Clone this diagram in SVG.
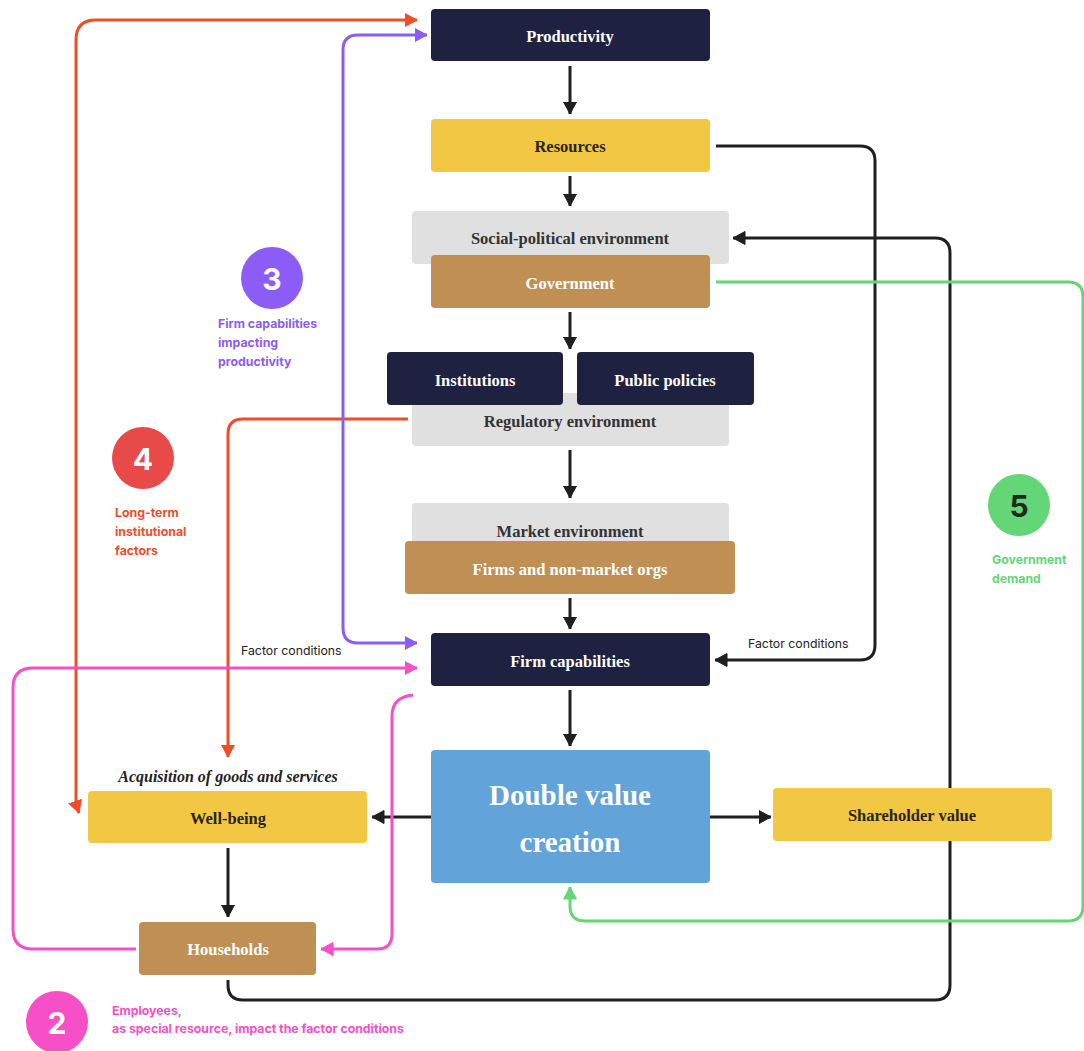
<svg xmlns="http://www.w3.org/2000/svg" width="1084" height="1051" viewBox="0 0 1084 1051">
<style>
.node-t{font-family:"Liberation Serif",serif;font-weight:bold;font-size:16.5px;text-anchor:middle;dominant-baseline:central}
.w{fill:#ffffff}.d{fill:#2a2418}.g{fill:#333333}
.lab{font-family:Inter,"Liberation Sans",sans-serif;font-weight:bold;font-size:12.3px}
.fc{font-family:Inter,"Liberation Sans",sans-serif;font-size:12.3px;fill:#222}
.num{font-family:Inter,"Liberation Sans",sans-serif;font-weight:bold;font-size:30px;text-anchor:middle;dominant-baseline:central}
.c{fill:none;stroke-width:3;stroke-linejoin:round}
</style>
<defs>
<marker id="ak" markerUnits="userSpaceOnUse" markerWidth="15" markerHeight="15" refX="12.5" refY="7" orient="auto-start-reverse"><path d="M0.5,0.5 L12.5,7 L0.5,13.5 z" fill="#1f1f1f" stroke="#1f1f1f" stroke-width="1" stroke-linejoin="round"/></marker>
<marker id="ao" markerUnits="userSpaceOnUse" markerWidth="15" markerHeight="15" refX="12.5" refY="7" orient="auto-start-reverse"><path d="M0.5,0.5 L12.5,7 L0.5,13.5 z" fill="#f24c26" stroke="#f24c26" stroke-width="1" stroke-linejoin="round"/></marker>
<marker id="ap" markerUnits="userSpaceOnUse" markerWidth="15" markerHeight="15" refX="12.5" refY="7" orient="auto-start-reverse"><path d="M0.5,0.5 L12.5,7 L0.5,13.5 z" fill="#8b5cf6" stroke="#8b5cf6" stroke-width="1" stroke-linejoin="round"/></marker>
<marker id="am" markerUnits="userSpaceOnUse" markerWidth="15" markerHeight="15" refX="12.5" refY="7" orient="auto-start-reverse"><path d="M0.5,0.5 L12.5,7 L0.5,13.5 z" fill="#f74fc8" stroke="#f74fc8" stroke-width="1" stroke-linejoin="round"/></marker>
<marker id="ag" markerUnits="userSpaceOnUse" markerWidth="15" markerHeight="15" refX="12.5" refY="7" orient="auto-start-reverse"><path d="M0.5,0.5 L12.5,7 L0.5,13.5 z" fill="#65d677" stroke="#65d677" stroke-width="1" stroke-linejoin="round"/></marker>
</defs>
<rect width="1084" height="1051" fill="#ffffff"/>

<g id="connectors">
<path class="c" stroke="#1f1f1f" d="M570 66 V114" marker-end="url(#ak)"/>
<path class="c" stroke="#1f1f1f" d="M570 176 V206" marker-end="url(#ak)"/>
<path class="c" stroke="#1f1f1f" d="M570 312 V349" marker-end="url(#ak)"/>
<path class="c" stroke="#1f1f1f" d="M570 450 V498" marker-end="url(#ak)"/>
<path class="c" stroke="#1f1f1f" d="M570 598 V629" marker-end="url(#ak)"/>
<path class="c" stroke="#1f1f1f" d="M570 690 V746" marker-end="url(#ak)"/>
<path class="c" stroke="#1f1f1f" d="M431 817 H372" marker-end="url(#ak)"/>
<path class="c" stroke="#1f1f1f" d="M710 817 H771" marker-end="url(#ak)"/>
<path class="c" stroke="#1f1f1f" d="M228 848 V917" marker-end="url(#ak)"/>
<path class="c" stroke="#1f1f1f" d="M716 146 H860 Q875 146 875 161 V645 Q875 660 860 660 H715" marker-end="url(#ak)"/>
<path class="c" stroke="#1f1f1f" d="M228 980 V985 Q228 1000 243 1000 H935 Q950 1000 950 985 V253 Q950 238 935 238 H733" marker-end="url(#ak)"/>
<path class="c" stroke="#65d677" d="M716 282 H1068 Q1083 282 1083 297 V906 Q1083 921 1068 921 H585 Q570 921 570 906 V887" marker-end="url(#ag)"/>
<path class="c" stroke="#f24c26" d="M79 813 L76 804 V40 Q76 20 96 20 H417" marker-start="url(#ao)" marker-end="url(#ao)"/>
<path class="c" stroke="#f24c26" d="M408 419 H243 Q228 419 228 434 V757" marker-end="url(#ao)"/>
<path class="c" stroke="#8b5cf6" d="M417 643 H358 Q343 643 343 628 V50 Q343 35 358 35 H427" marker-start="url(#ap)" marker-end="url(#ap)"/>
<path class="c" stroke="#f74fc8" d="M136 949 H33 Q13 949 13 929 V688 Q13 668 33 668 H417" marker-end="url(#am)"/>
<path class="c" stroke="#f74fc8" d="M413 695 Q392 697 392 716 V934 Q392 949 377 949 H321" marker-end="url(#am)"/>
<text class="fc" x="241" y="655">Factor conditions</text>
<text class="fc" x="748" y="648">Factor conditions</text>
</g>

<g id="productivity"><rect x="431" y="9" width="279" height="52" rx="4" fill="#1e2140"/><text class="node-t w" x="570" y="36">Productivity</text></g>
<g id="resources"><rect x="431" y="119" width="279" height="53" rx="4" fill="#f2c744"/><text class="node-t d" x="570" y="146">Resources</text></g>
<g id="social-political"><rect x="412" y="211" width="317" height="53" rx="4" fill="#e0e0e0"/><text class="node-t g" x="570" y="238">Social-political environment</text></g>
<g id="government"><rect x="431" y="255" width="279" height="53" rx="4" fill="#c08f54"/><text class="node-t w" x="570" y="283">Government</text></g>
<g id="regulatory"><rect x="412" y="393" width="317" height="53" rx="4" fill="#e0e0e0"/><text class="node-t g" x="570" y="421">Regulatory environment</text></g>
<g id="institutions"><rect x="387" y="352" width="176" height="53" rx="4" fill="#1e2140"/><text class="node-t w" x="475" y="380">Institutions</text></g>
<g id="public-policies"><rect x="577" y="352" width="177" height="53" rx="4" fill="#1e2140"/><text class="node-t w" x="665" y="380">Public policies</text></g>
<g id="market"><rect x="412" y="503" width="317" height="53" rx="4" fill="#e0e0e0"/><text class="node-t g" x="570" y="531">Market environment</text></g>
<g id="firms"><rect x="405" y="541" width="330" height="53" rx="4" fill="#c08f54"/><text class="node-t w" x="570" y="569">Firms and non-market orgs</text></g>
<g id="firm-capabilities"><rect x="431" y="633" width="279" height="53" rx="4" fill="#1e2140"/><text class="node-t w" x="570" y="661">Firm capabilities</text></g>
<g id="double-value"><rect x="431" y="750" width="279" height="133" rx="4" fill="#62a3d9"/>
<text x="570" y="795" style="font-family:'Liberation Serif',serif;font-weight:bold;font-size:29px;text-anchor:middle;dominant-baseline:central" fill="#fff">Double value</text>
<text x="570" y="842" style="font-family:'Liberation Serif',serif;font-weight:bold;font-size:29px;text-anchor:middle;dominant-baseline:central" fill="#fff">creation</text></g>
<g id="shareholder"><rect x="773" y="788" width="279" height="53" rx="4" fill="#f2c744"/><text class="node-t d" x="912" y="815">Shareholder value</text></g>
<g id="well-being">
<text x="228" y="776" style="font-family:'Liberation Serif',serif;font-weight:bold;font-style:italic;font-size:16px;text-anchor:middle;dominant-baseline:central" fill="#222">Acquisition of goods and services</text>
<rect x="88" y="791" width="279" height="52" rx="4" fill="#f2c744"/><text class="node-t d" x="228" y="818">Well-being</text></g>
<g id="households"><rect x="139" y="922" width="177" height="53" rx="4" fill="#c08f54"/><text class="node-t w" x="228" y="949">Households</text></g>

<g id="badge-3"><circle cx="272" cy="278" r="31" fill="#8b5cf6"/><text class="num" x="272" y="279" fill="#fff">3</text>
<text class="lab" fill="#8b5cf6"><tspan x="218" y="328">Firm capabilities</tspan><tspan x="218" y="347">impacting</tspan><tspan x="218" y="366">productivity</tspan></text></g>
<g id="badge-4"><circle cx="143" cy="458" r="31" fill="#e84a4a"/><text class="num" x="143" y="459" fill="#fff">4</text>
<text class="lab" fill="#f24c26"><tspan x="115" y="517">Long-term</tspan><tspan x="115" y="536">institutional</tspan><tspan x="115" y="555">factors</tspan></text></g>
<g id="badge-5"><circle cx="1019" cy="505" r="31" fill="#65d677"/><text class="num" x="1019" y="506" fill="#1d2a1d">5</text>
<text class="lab" fill="#65d677"><tspan x="992" y="564">Government</tspan><tspan x="992" y="583">demand</tspan></text></g>
<g id="badge-2"><circle cx="57" cy="1022" r="31" fill="#f74fc8"/><text class="num" x="57" y="1023" fill="#fff">2</text>
<text class="lab" fill="#f74fc8"><tspan x="112" y="1015">Employees,</tspan><tspan x="112" y="1033">as special resource, impact the factor conditions</tspan></text></g>
</svg>
